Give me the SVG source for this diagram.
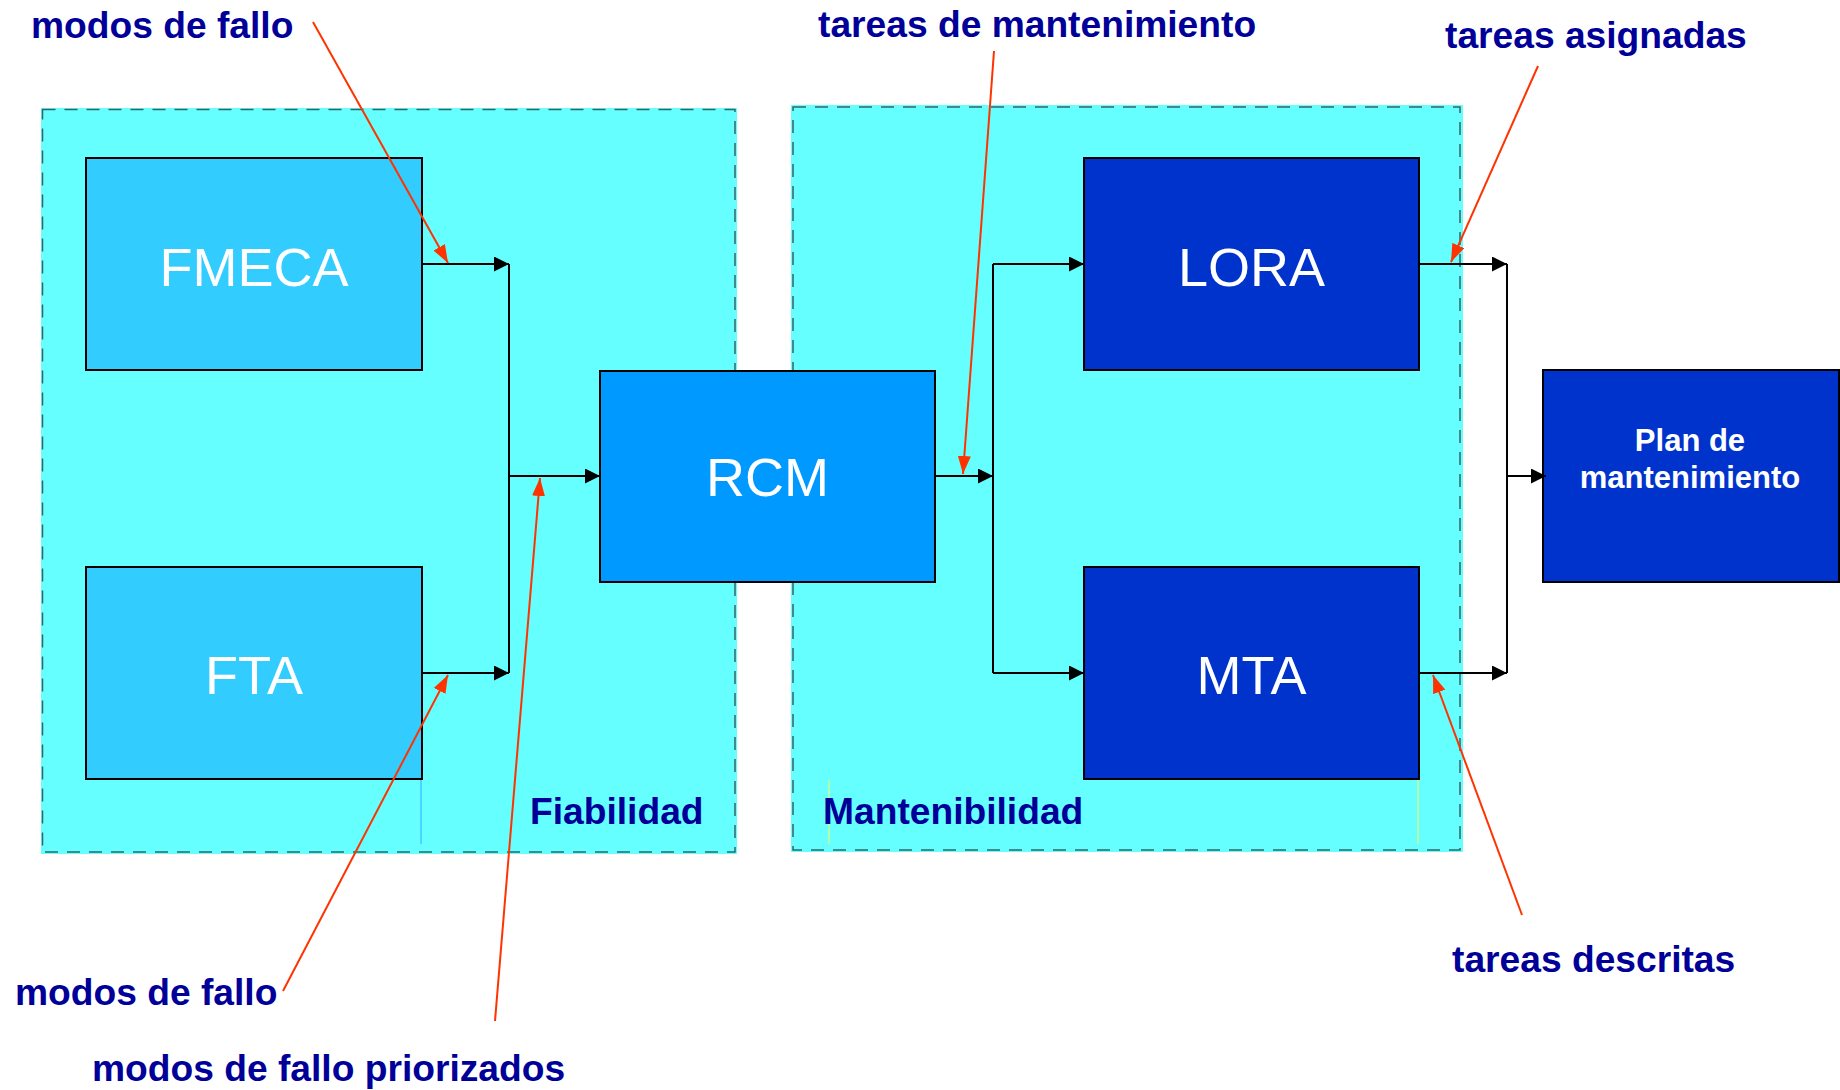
<svg xmlns="http://www.w3.org/2000/svg" width="1840" height="1090" viewBox="0 0 1840 1090">
  <style>
    .cfill { fill: #66FFFF; stroke: none; }
    .cdash { fill: none; stroke: #336666; stroke-width: 1.5; stroke-dasharray: 13 9; }
    .box { stroke: #000000; stroke-width: 2; }
    .light { fill: #33CCFF; }
    .mid { fill: #0099FF; }
    .dark { fill: #0033CC; }
    .ntext { font-family: "Liberation Sans", Arial, sans-serif; font-size: 54px; fill: #FFFFFF; text-anchor: middle; }
    .ptext { font-family: "Liberation Sans", Arial, sans-serif; font-size: 31px; font-weight: bold; fill: #FFFFFF; text-anchor: middle; }
    .label { font-family: "Liberation Sans", Arial, sans-serif; font-size: 37.2px; font-weight: bold; fill: #000099; }
    .conn { fill: none; stroke: #000000; stroke-width: 2; }
    .red { fill: none; stroke: #FF3300; stroke-width: 2; }
  </style>
  <defs>
    <marker id="arrow" markerUnits="userSpaceOnUse" markerWidth="15" markerHeight="15" refX="15" refY="7.5" orient="auto">
      <path d="M0,0 L15,7.5 L0,15 Z" fill="#000000"/>
    </marker>
    <marker id="redarrow" markerUnits="userSpaceOnUse" markerWidth="18" markerHeight="13" refX="18" refY="6.5" orient="auto">
      <path d="M0,0 L18,6.5 L0,13 Z" fill="#FF3300"/>
    </marker>
  </defs>

  <rect width="1840" height="1090" fill="#FFFFFF"/>

  <g id="container-fiabilidad">
    <rect class="cfill" x="41" y="108" width="696" height="746"/>
    <rect class="cdash" x="42.5" y="109.5" width="692.5" height="742.5"/>
    <line x1="421" y1="780" x2="421" y2="844" stroke="#33AAFF" stroke-width="1"/>
    <text class="label" x="530" y="824">Fiabilidad</text>
  </g>

  <g id="container-mantenibilidad">
    <rect class="cfill" x="791" y="105" width="672" height="747"/>
    <rect class="cdash" x="793" y="107" width="667" height="743"/>
    <line x1="829" y1="780" x2="829" y2="844" stroke="#FFFF66" stroke-width="1"/>
    <line x1="1418" y1="780" x2="1418" y2="844" stroke="#FFFF66" stroke-width="1"/>
    <text class="label" x="823" y="824">Mantenibilidad</text>
  </g>

  <g id="node-fmeca">
    <rect class="box light" x="86" y="158" width="336" height="212"/>
    <text class="ntext" x="254" y="286">FMECA</text>
  </g>
  <g id="node-fta">
    <rect class="box light" x="86" y="567" width="336" height="212"/>
    <text class="ntext" x="254" y="694">FTA</text>
  </g>
  <g id="node-rcm">
    <rect class="box mid" x="600" y="371" width="335" height="211"/>
    <text class="ntext" x="767.5" y="496">RCM</text>
  </g>
  <g id="node-lora">
    <rect class="box dark" x="1084" y="158" width="335" height="212"/>
    <text class="ntext" x="1251.5" y="286">LORA</text>
  </g>
  <g id="node-mta">
    <rect class="box dark" x="1084" y="567" width="335" height="212"/>
    <text class="ntext" x="1251.5" y="694">MTA</text>
  </g>
  <g id="node-plan">
    <rect class="box dark" x="1543" y="370" width="296" height="212"/>
    <text class="ptext" x="1690" y="451">Plan de</text>
    <text class="ptext" x="1690" y="488">mantenimiento</text>
  </g>

  <g id="connectors">
    <path class="conn" d="M422,264 H509" marker-end="url(#arrow)"/>
    <path class="conn" d="M422,673 H509" marker-end="url(#arrow)"/>
    <path class="conn" d="M509,264 V673"/>
    <path class="conn" d="M509,476 H600" marker-end="url(#arrow)"/>
    <path class="conn" d="M935,476 H993" marker-end="url(#arrow)"/>
    <path class="conn" d="M993,264 V673"/>
    <path class="conn" d="M993,264 H1084" marker-end="url(#arrow)"/>
    <path class="conn" d="M993,673 H1084" marker-end="url(#arrow)"/>
    <path class="conn" d="M1419,264 H1507" marker-end="url(#arrow)"/>
    <path class="conn" d="M1419,673 H1507" marker-end="url(#arrow)"/>
    <path class="conn" d="M1507,264 V673"/>
    <path class="conn" d="M1507,476 H1546" marker-end="url(#arrow)"/>

    <path class="red" d="M313,22 L448,263" marker-end="url(#redarrow)"/>
    <path class="red" d="M283,991 L448,675" marker-end="url(#redarrow)"/>
    <path class="red" d="M495,1021 L540,478" marker-end="url(#redarrow)"/>
    <path class="red" d="M994,51 L963,474" marker-end="url(#redarrow)"/>
    <path class="red" d="M1538,66 L1451,262" marker-end="url(#redarrow)"/>
    <path class="red" d="M1522,915 L1433,675" marker-end="url(#redarrow)"/>
  </g>

  <g id="labels">
    <text class="label" x="31" y="37.5">modos de fallo</text>
    <text class="label" x="818" y="36.5">tareas de mantenimiento</text>
    <text class="label" x="1445" y="48">tareas asignadas</text>
    <text class="label" x="15" y="1005">modos de fallo</text>
    <text class="label" x="92" y="1080.5">modos de fallo priorizados</text>
    <text class="label" x="1452" y="971.5">tareas descritas</text>
  </g>
</svg>
